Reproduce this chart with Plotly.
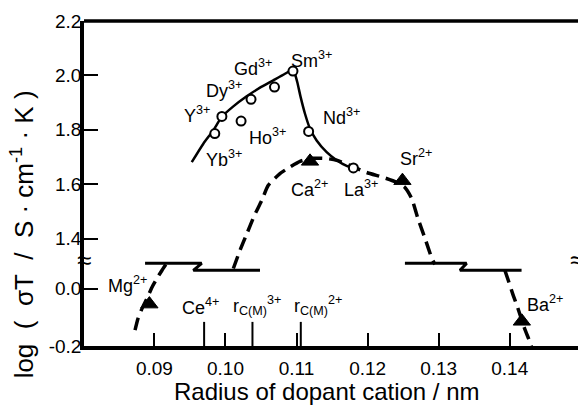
import plotly.graph_objects as go

# ---- trivalent dopants (open circles, upper axis segment) ----
tri_labels = ["Yb<sup>3+</sup>", "Y<sup>3+</sup>", "Ho<sup>3+</sup>", "Dy<sup>3+</sup>",
              "Gd<sup>3+</sup>", "Sm<sup>3+</sup>", "Nd<sup>3+</sup>", "La<sup>3+</sup>"]
tri_radius = [0.0985, 0.0995, 0.1022, 0.1036, 0.1069, 0.1095, 0.1117, 0.1180]
tri_logsigT = [1.786, 1.849, 1.832, 1.912, 1.957, 2.016, 1.794, 1.660]

# ---- divalent dopants (filled triangles) ----
di_up_labels = ["Ca<sup>2+</sup>", "Sr<sup>2+</sup>"]
di_up_radius = [0.1119, 0.1249]
di_up_logsigT = [1.684, 1.613]
di_lo_labels = ["Mg<sup>2+</sup>", "Ba<sup>2+</sup>"]
di_lo_radius = [0.0893, 0.1417]
di_lo_logsigT = [-0.054, -0.114]

# ---- guide curves ----
tri_rise_x = [0.09526, 0.09689, 0.09829, 0.09947, 0.10111, 0.10299, 0.10486, 0.10673, 0.10838, 0.10932, 0.10957]
tri_rise_y = [1.681, 1.749, 1.798, 1.847, 1.886, 1.923, 1.955, 1.982, 2.006, 2.021, 2.026]
tri_fall_x = [0.10957, 0.11011, 0.11058, 0.11119, 0.11190, 0.11283, 0.11424, 0.11565, 0.11705, 0.11776]
tri_fall_y = [2.026, 1.975, 1.920, 1.859, 1.804, 1.761, 1.718, 1.688, 1.667, 1.661]

di_mid_x = [0.10111, 0.10205, 0.10303, 0.10402, 0.10510, 0.10603, 0.10767, 0.10908, 0.11049, 0.11217,
            0.11400, 0.11565, 0.11752, 0.11987, 0.12220, 0.12408, 0.12525, 0.12619, 0.12708, 0.12807,
            0.12905, 0.12947]
di_mid_y = [1.290, 1.357, 1.419, 1.482, 1.540, 1.596, 1.639, 1.663, 1.684, 1.695,
            1.695, 1.688, 1.669, 1.643, 1.625, 1.607, 1.588, 1.548, 1.474, 1.401,
            1.327, 1.305]
di_left_x = [0.08728, 0.08770, 0.08827, 0.08897, 0.08967, 0.09038, 0.09108, 0.09164]
di_left_y = [-0.145, -0.104, -0.069, -0.034, 0.005, 0.036, 0.064, 0.085]
di_right_x = [0.13931, 0.13988, 0.14044, 0.14100, 0.14156, 0.14213, 0.14269, 0.14304]
di_right_y = [0.064, 0.022, -0.020, -0.058, -0.100, -0.142, -0.177, -0.201]

# ---- break marks on the curves (upper-axis units) ----
brk_left_x = [0.08869, 0.09666, 0.09548, 0.10486]
brk_right_x = [0.12525, 0.13393, 0.13299, 0.14166]
brk_y = [1.309, 1.309, 1.2835, 1.2835]

# ---- reference radii marked on the x axis ----
ref_labels = ["Ce<sup>4+</sup>", "r<sub>C(M)</sub><sup>3+</sup>", "r<sub>C(M)</sub><sup>2+</sup>"]
ref_radius = [0.0970, 0.1038, 0.1106]

x_ticks = [0.09, 0.10, 0.11, 0.12, 0.13, 0.14]
x_ticktext = ["0.09", "0.10", "0.11", "0.12", "0.13", "0.14"]
y_up_ticks = [1.4, 1.6, 1.8, 2.0, 2.2]
y_up_ticktext = ["1.4", "1.6", "1.8", "2.0", "2.2"]
y_lo_ticks = [-0.2, 0.0]
y_lo_ticktext = ["-0.2", "0.0"]

# label placement (pixel offsets from each marker)
tri_offsets = [(9, -25), (-25, 2), (26, -15), (-27, 10), (-21, 20), (19, 12), (33, 15), (8, -21)]
di_up_offsets = [(-1, -27), (14, 23)]
di_lo_offsets = [(-22, 20), (23, 18)]

FONT = "Arial, Liberation Sans, Helvetica, sans-serif"
DASH = "13px,7px"
NB = "\u00a0"

fig = go.Figure()

# dashed guide for divalent dopants
for xs, ys, ax in [(di_mid_x, di_mid_y, "y"), (di_left_x, di_left_y, "y2"), (di_right_x, di_right_y, "y2")]:
    fig.add_trace(go.Scatter(x=xs, y=ys, yaxis=ax, mode="lines",
                             line=dict(color="black", width=3.5, dash=DASH, shape="spline", smoothing=0.6),
                             hoverinfo="skip", showlegend=False))

# solid guide for trivalent dopants
for xs, ys in [(tri_rise_x, tri_rise_y), (tri_fall_x, tri_fall_y)]:
    fig.add_trace(go.Scatter(x=xs, y=ys, yaxis="y", mode="lines",
                             line=dict(color="black", width=2.5, shape="spline", smoothing=0.6),
                             hoverinfo="skip", showlegend=False))

# break marks
for xs in [brk_left_x, brk_right_x]:
    fig.add_trace(go.Scatter(x=xs, y=brk_y, yaxis="y", mode="lines",
                             line=dict(color="black", width=3),
                             hoverinfo="skip", showlegend=False))

# markers
fig.add_trace(go.Scatter(x=di_up_radius, y=di_up_logsigT, yaxis="y", mode="markers",
                         marker=dict(symbol="triangle-up", size=15, color="black",
                                     line=dict(color="black", width=1)),
                         showlegend=False))
fig.add_trace(go.Scatter(x=di_lo_radius, y=di_lo_logsigT, yaxis="y2", mode="markers",
                         marker=dict(symbol="triangle-up", size=15, color="black",
                                     line=dict(color="black", width=1)),
                         showlegend=False))
fig.add_trace(go.Scatter(x=tri_radius, y=tri_logsigT, yaxis="y", mode="markers",
                         marker=dict(symbol="circle", size=9, color="white",
                                     line=dict(color="black", width=2)),
                         showlegend=False))

annotations = []
lab_font = dict(family=FONT, size=18, color="black")
for lab, x, y, (dx, dy) in zip(tri_labels, tri_radius, tri_logsigT, tri_offsets):
    annotations.append(dict(x=x, y=y, xref="x", yref="y", text=lab, showarrow=False,
                            xshift=dx, yshift=dy, font=lab_font))
for lab, x, y, (dx, dy) in zip(di_up_labels, di_up_radius, di_up_logsigT, di_up_offsets):
    annotations.append(dict(x=x, y=y, xref="x", yref="y", text=lab, showarrow=False,
                            xshift=dx, yshift=dy, font=lab_font))
for lab, x, y, (dx, dy) in zip(di_lo_labels, di_lo_radius, di_lo_logsigT, di_lo_offsets):
    annotations.append(dict(x=x, y=y, xref="x", yref="y2", text=lab, showarrow=False,
                            xshift=dx, yshift=dy, font=lab_font))

# tall ticks for the reference radii, with their labels
ref_tick_top = -0.116
ref_shifts = [-4, 5, 17]
shapes = []
for lab, x, dx in zip(ref_labels, ref_radius, ref_shifts):
    shapes.append(dict(type="line", xref="x", yref="y2", x0=x, x1=x, y0=-0.2, y1=ref_tick_top,
                       line=dict(color="black", width=2)))
    annotations.append(dict(x=x, y=ref_tick_top, xref="x", yref="y2", text=lab, showarrow=False,
                            xshift=dx, yshift=2, yanchor="bottom", font=lab_font))

# top frame line
shapes.append(dict(type="line", xref="paper", yref="paper", x0=0, x1=1, y0=1, y1=1,
                   line=dict(color="black", width=3.5)))

# axis-break symbols
for px in [0, 0.997]:
    annotations.append(dict(x=px, y=0.2646, xref="paper", yref="paper", text="≈", showarrow=False,
                            xanchor="center", yanchor="middle",
                            font=dict(family=FONT, size=26, color="black")))

# axis titles
annotations.append(dict(x=0.491, y=-0.14, xref="paper", yref="paper",
                        text="Radius of dopant cation / nm", showarrow=False,
                        xanchor="center", yanchor="middle",
                        font=dict(family=FONT, size=24, color="black")))
ytitle = ("log" + NB * 2 + "(" + NB * 2 + "σT" + NB * 2 + "/" + NB * 2 + "S" + NB + "·" + NB
          + "cm<sup>-1</sup>" + NB + "·" + NB + "K" + NB + ")")
annotations.append(dict(x=-0.1245, y=0.345, xref="paper", yref="paper",
                        text=ytitle, showarrow=False, textangle=-90,
                        xanchor="center", yanchor="middle",
                        font=dict(family=FONT, size=26, color="black")))

axis_common = dict(showline=True, linecolor="black", linewidth=3.5, ticks="inside",
                   tickcolor="black", tickwidth=2, showgrid=False, zeroline=False,
                   tickfont=dict(family=FONT, size=19, color="black"))

fig.update_layout(
    width=578, height=406,
    margin=dict(l=84, r=0, t=21, b=60),
    paper_bgcolor="white", plot_bgcolor="rgba(0,0,0,0)",
    showlegend=False,
    xaxis=dict(range=[0.0801, 0.1496], anchor="y2", tickmode="array",
               tickvals=x_ticks, ticktext=x_ticktext, ticklen=13, ticklabelstandoff=2,
               **axis_common),
    yaxis=dict(domain=[0.21846, 1], range=[1.26618, 2.2], anchor="x", tickmode="array",
               tickvals=y_up_ticks, ticktext=y_up_ticktext, ticklen=14, ticklabelstandoff=-5,
               **axis_common),
    yaxis2=dict(domain=[0, 0.27692], range=[-0.2, 0.11359], anchor="x", tickmode="array",
                tickvals=y_lo_ticks, ticktext=y_lo_ticktext, ticklen=14, ticklabelstandoff=-5,
                **axis_common),
    shapes=shapes,
    annotations=annotations,
)

fig.write_html("out.html")
